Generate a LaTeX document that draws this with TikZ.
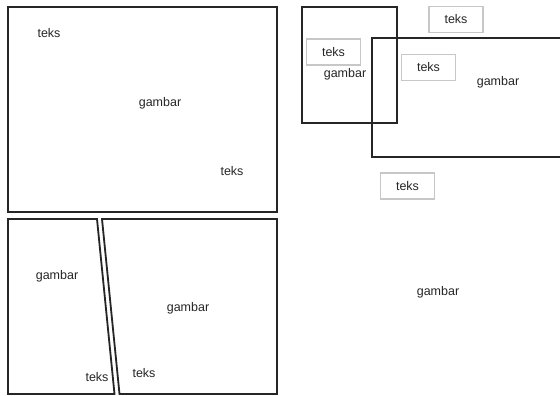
\documentclass[tikz,border=0pt]{standalone}
\usepackage{fontspec}
\setmainfont{Liberation Sans}
\begin{document}
\begin{tikzpicture}[x=1pt,y=-1pt,
  frame/.style={draw=black!85,line width=1.8pt},
  lbl/.style={text=black!85,font=\fontsize{12.5}{14}\selectfont,inner sep=0pt},
  tbox/.style={draw=black!22,line width=1.6pt,text=black!85,font=\fontsize{12.5}{14}\selectfont,minimum width=54pt,minimum height=26pt,inner sep=0pt}]
\useasboundingbox[fill=white] (0,0) rectangle (560,396);
% top-left frame
\draw[frame] (8,7) rectangle (277,212);
\node[lbl] (t1) at (49,33) {teks};
\node[lbl] (g1) at (160,103) {gambar};
\node[lbl] (t2) at (232,171) {teks};
% bottom-left panels
\draw[frame] (8,219) -- (97,219) -- (114.5,394) -- (8,394) -- cycle;
\draw[frame] (102,219) -- (277,219) -- (277,394) -- (119.5,394) -- cycle;
\node[lbl] (g2) at (57,276) {gambar};
\node[lbl] (t3) at (97,377) {teks};
\node[lbl] (g3) at (188,308) {gambar};
\node[lbl] (t4) at (144,373) {teks};
% right side
\draw[frame] (302,7) rectangle (397,123);
\draw[frame] (562,38) -- (372,38) -- (372,157) -- (562,157);
\node[tbox] (b1) at (456,19.5) {teks};
\node[tbox] (b2) at (333.5,52) {teks};
\node[tbox] (b3) at (428.5,67.5) {teks};
\node[tbox] (b4) at (407.5,186) {teks};
\node[lbl] (g4) at (345,74) {gambar};
\node[lbl] (g5) at (498,82) {gambar};
\node[lbl] (g6) at (438,292) {gambar};
\end{tikzpicture}
\end{document}
